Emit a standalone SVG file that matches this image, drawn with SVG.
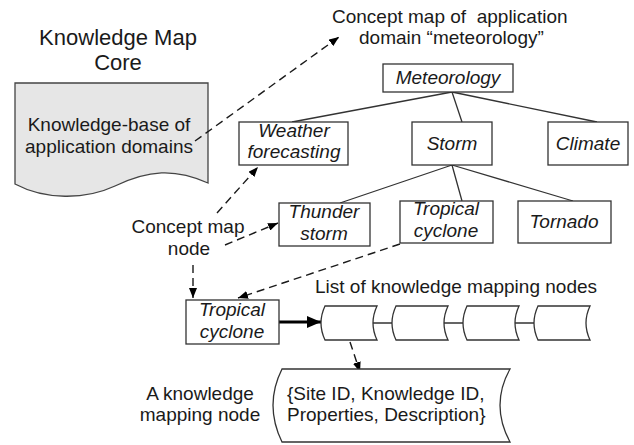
<svg xmlns="http://www.w3.org/2000/svg" width="634" height="445" viewBox="0 0 634 445">
<defs>
<style>
text{font-family:"Liberation Sans",Arial,sans-serif;font-size:19px;fill:#1a1a1a}
.t{font-size:22px}
.i{font-style:italic}
.m{text-anchor:middle}
.box{fill:#fff;stroke:#333;stroke-width:1.3}
.tree{fill:none;stroke:#333;stroke-width:1.3}
.dash{fill:none;stroke:#1a1a1a;stroke-width:1.4;stroke-dasharray:8 5;marker-end:url(#ah)}
.thick{fill:none;stroke:#000;stroke-width:3.2;marker-end:url(#ahb)}
</style>
<marker id="ah" markerUnits="userSpaceOnUse" markerWidth="10" markerHeight="8" viewBox="0 0 10 8" refX="10" refY="4" orient="auto">
<path d="M0,0 L10,4 L0,8 z" fill="#000"/>
</marker>
<marker id="ahb" markerUnits="userSpaceOnUse" markerWidth="14" markerHeight="12" viewBox="0 0 14 12" refX="14" refY="6" orient="auto">
<path d="M0,0 L14,6 L0,12 z" fill="#000"/>
</marker>
<path id="ln" d="M4,0 L56,0 Q48,17 56,34 L4,34 Q-4,17 4,0 Z"/>
</defs>

<g id="title">
<text class="t m" x="118" y="45">Knowledge Map</text>
<text class="t m" x="118" y="70">Core</text>
</g>

<g id="knowledge-base">
<path d="M15,83 L208,83 L208,183 C175,168 148,170 115,186 C85,200 45,200 15,184 Z" fill="#e6e6e6" stroke="#444" stroke-width="1.3"/>
<text class="m" x="109" y="131">Knowledge-base of</text>
<text class="m" x="109" y="153">application domains</text>
</g>

<g id="concept-map-label">
<text x="332" y="23">Concept map of&#160; application</text>
<text x="359" y="44">domain “meteorology”</text>
</g>

<g id="concept-node-label">
<text class="m" x="188" y="233">Concept map</text>
<text class="m" x="189" y="255">node</text>
</g>

<g id="connectors">
<path class="tree" d="M452,92 L292,122 M452,92 L462,122 M452,92 L597,122"/>
<path class="tree" d="M452,165 L340,203 M452,165 L462,201 M452,165 L573,201"/>
<path class="dash" d="M195,141 L339,37"/>
<path class="dash" d="M217,213 L258,167"/>
<path class="dash" d="M225,245 L278,223"/>
<path class="dash" d="M193,265 L193,298"/>
<path class="dash" d="M400,244 L238,298"/>
<path class="dash" d="M350,342 L360,372"/>
<path class="thick" d="M279,322 L321,322"/>
<path class="tree" d="M373,323 L392,323 M444,323 L463,323 M515,323 L534,323"/>
</g>

<g id="meteorology">
<rect class="box" x="383" y="64" width="130" height="28"/>
<text class="i m" x="448" y="84">Meteorology</text>
</g>
<g id="weather-forecasting">
<rect class="box" x="239" y="122" width="109" height="43"/>
<text class="i m" x="294" y="137">Weather</text>
<text class="i m" x="294" y="158">forecasting</text>
</g>
<g id="storm">
<rect class="box" x="412" y="122" width="80" height="43"/>
<text class="i m" x="452" y="150">Storm</text>
</g>
<g id="climate">
<rect class="box" x="548" y="122" width="80" height="43"/>
<text class="i m" x="588" y="150">Climate</text>
</g>
<g id="thunder-storm">
<rect class="box" x="279" y="203" width="91" height="43"/>
<text class="i m" x="324" y="218">Thunder</text>
<text class="i m" x="324" y="240">storm</text>
</g>
<g id="tropical-cyclone">
<rect class="box" x="400" y="201" width="93" height="42"/>
<text class="i m" x="446" y="215">Tropical</text>
<text class="i m" x="446" y="237">cyclone</text>
</g>
<g id="tornado">
<rect class="box" x="518" y="201" width="93" height="42"/>
<text class="i m" x="564" y="228">Tornado</text>
</g>
<g id="tropical-cyclone-node">
<rect class="box" x="186" y="300" width="93" height="44"/>
<text class="i m" x="232" y="316">Tropical</text>
<text class="i m" x="232" y="338">cyclone</text>
</g>

<g id="mapping-list">
<text x="315" y="293">List of knowledge mapping nodes</text>
<use href="#ln" x="321" y="306" class="box"/>
<use href="#ln" x="392" y="306" class="box"/>
<use href="#ln" x="463" y="306" class="box"/>
<use href="#ln" x="534" y="306" class="box"/>
</g>

<g id="mapping-node">
<path class="box" d="M282,369 L510,369 Q490,405 510,442 L282,442 Q264,405 282,369 Z"/>
<text x="287" y="400">{Site ID, Knowledge ID,</text>
<text x="287" y="421">Properties, Description}</text>
<text class="m" x="200" y="400">A knowledge</text>
<text class="m" x="200" y="421">mapping node</text>
</g>
</svg>
